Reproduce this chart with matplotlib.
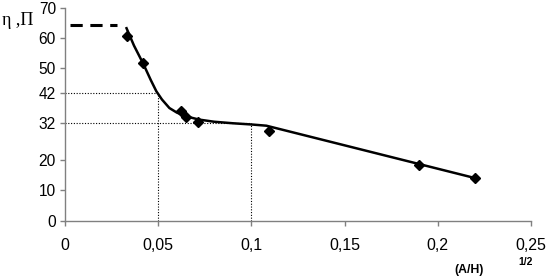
import numpy as np
import matplotlib
matplotlib.use("Agg")
import matplotlib.pyplot as plt

plt.rcParams['font.family'] = ['Liberation Sans', 'DejaVu Sans']

# measured points (diamonds)
x_pts = [0.0331, 0.042, 0.0621, 0.0647, 0.0712, 0.1094, 0.190, 0.220]
y_pts = [60.6, 51.7, 36.0, 33.9, 32.5, 29.5, 18.2, 14.0]

# trend curve
x_curve = [0.033, 0.037, 0.042, 0.046, 0.049, 0.052, 0.056, 0.060, 0.064,
           0.068, 0.072, 0.080, 0.090, 0.100, 0.108, 0.220]
y_curve = [63.2, 57.5, 51.5, 46.2, 42.5, 39.8, 37.0, 35.5, 34.5,
           33.8, 33.2, 32.5, 32.0, 31.6, 31.2, 14.0]

# dashed limit level
x_limit = [0.0025, 0.028]
y_limit = [64.3, 64.3]

# reference levels (dotted guides)
x_ref = [0.05, 0.1]
y_ref = [42, 32]

y_ticks = [0, 10, 20, 32, 42, 50, 60, 70]
x_ticks = [0, 0.05, 0.1, 0.15, 0.2, 0.25]
x_ticklabels = ['0', '0,05', '0,1', '0,15', '0,2', '0,25']

fig = plt.figure(figsize=(5.51, 2.78), dpi=100)
ax = fig.add_axes([0.118, 0.206, 0.8457, 0.767])

for xr, yr in zip(x_ref, y_ref):
    ax.plot([0, xr], [yr, yr], color='black', ls=(0, (1, 1.5)), lw=0.8)
    ax.plot([xr, xr], [0, yr], color='black', ls=(0, (1, 1.5)), lw=0.8)

ax.plot(x_limit, y_limit, color='black', ls=(0, (4, 2.5)), lw=2.2)
ax.plot(x_curve, y_curve, color='black', lw=1.8)
ax.plot(x_pts, y_pts, 'D', color='black', ms=5.5, mec='black')

ax.set_xlim(0, 0.25)
ax.set_ylim(0, 70)
ax.set_yticks(y_ticks)
ax.set_xticks(x_ticks)
ax.set_xticklabels(x_ticklabels)

for s in ['top', 'right']:
    ax.spines[s].set_visible(False)
for s in ['left', 'bottom']:
    ax.spines[s].set_color('#808080')
    ax.spines[s].set_linewidth(1.0)

ax.tick_params(axis='x', direction='out', length=3.5, width=1, color='#808080',
               labelsize=11.5, pad=9)
ax.tick_params(axis='y', direction='out', length=3.5, width=1, color='#808080',
               labelsize=11.2, pad=3)

fig.text(0.004, 0.925, 'η ,П', family=['Liberation Serif', 'DejaVu Serif'],
         fontsize=13, va='center', ha='left')
fig.text(0.824, 0.028, '(A/H)', fontsize=8.8, fontweight='bold', va='center', ha='left')
fig.text(0.94, 0.058, '1/2', fontsize=7.5, fontweight='bold', va='center', ha='left')

fig.savefig('out.png', dpi=100)
